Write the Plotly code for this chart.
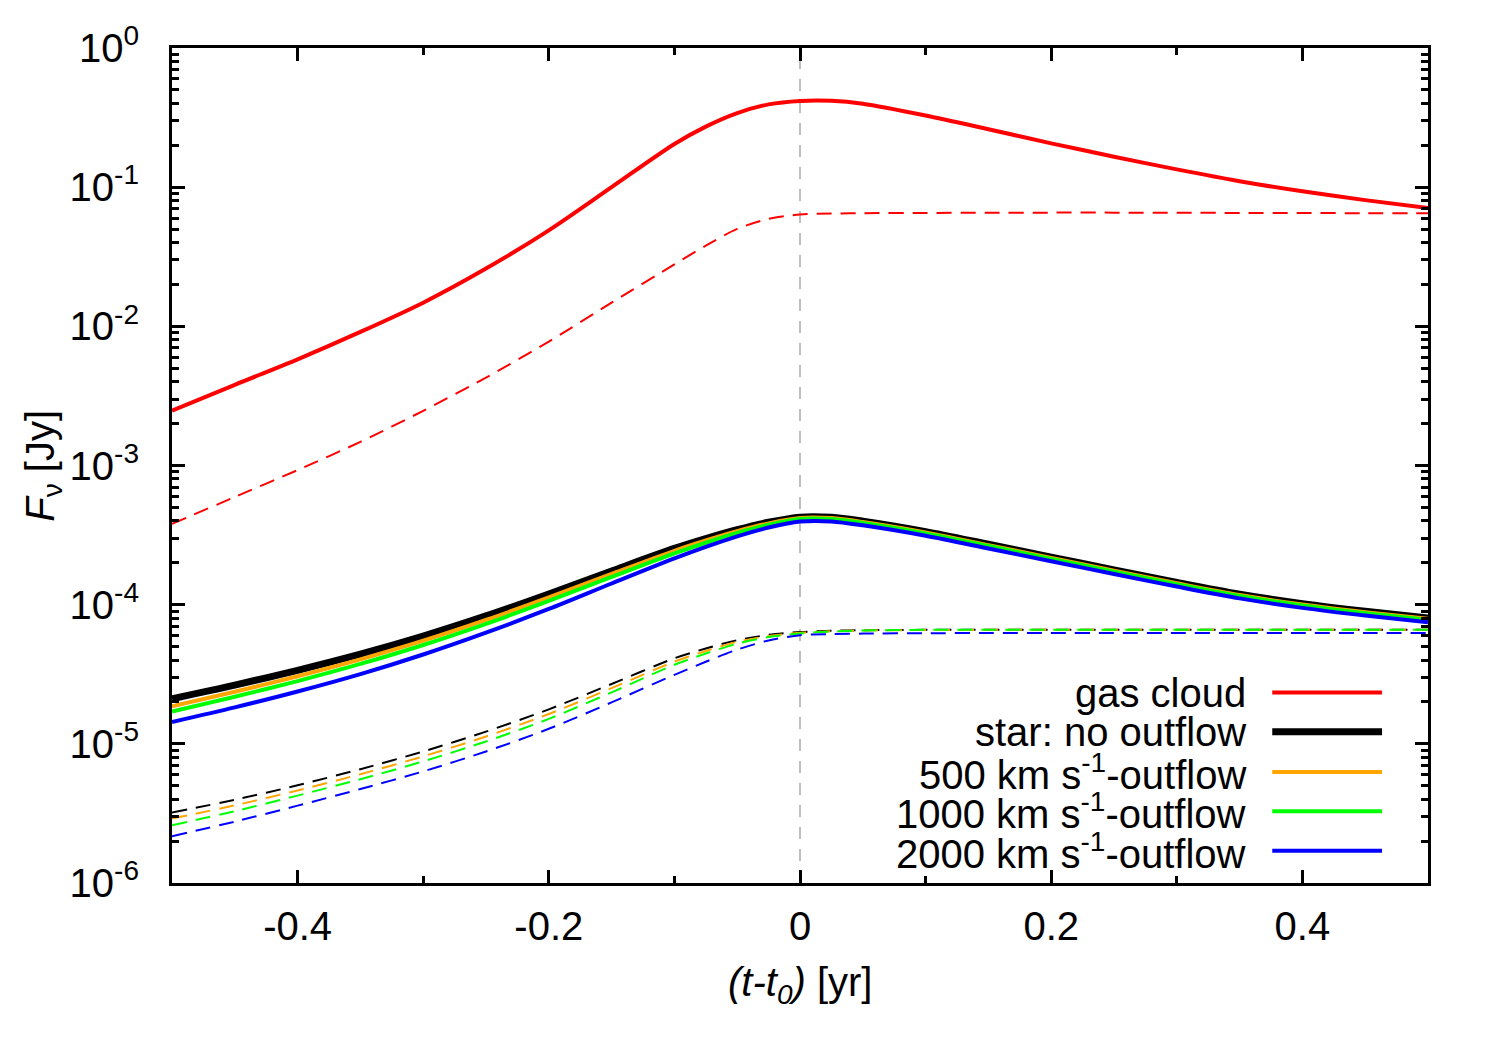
import numpy as np
import plotly.graph_objects as go

# time relative to pericentre [yr]
t_yr = [-0.5, -0.45, -0.4, -0.35, -0.3, -0.25, -0.2, -0.15, -0.1, -0.075, -0.05, -0.025,
        0.0, 0.025, 0.05, 0.1, 0.15, 0.2, 0.25, 0.3, 0.35, 0.4, 0.45, 0.5]

# log10(F_nu / Jy)
gas_solid = [-2.606, -2.42, -2.237, -2.04, -1.83, -1.585, -1.31, -1.0, -0.69, -0.565, -0.468, -0.405,
             -0.38, -0.379, -0.4, -0.485, -0.584, -0.685, -0.781, -0.872, -0.957, -1.03, -1.093, -1.15]
gas_dash = [-3.42, -3.226, -3.033, -2.83, -2.607, -2.368, -2.11, -1.83, -1.555, -1.42, -1.3, -1.228,
            -1.196, -1.19, -1.187, -1.185, -1.184, -1.183, -1.183, -1.184, -1.185, -1.186, -1.187, -1.188]

star0_solid = [-4.676, -4.578, -4.472, -4.356, -4.226, -4.081, -3.923, -3.758, -3.596, -3.525, -3.461, -3.408,
               -3.371, -3.372, -3.4, -3.475, -3.566, -3.658, -3.75, -3.84, -3.925, -3.993, -4.048, -4.096]
star500_solid = [-4.731, -4.626, -4.514, -4.393, -4.259, -4.11, -3.948, -3.779, -3.613, -3.539, -3.472, -3.416,
                 -3.377, -3.378, -3.406, -3.481, -3.572, -3.664, -3.756, -3.846, -3.931, -3.999, -4.054, -4.102]
star1000_solid = [-4.768, -4.662, -4.549, -4.426, -4.29, -4.138, -3.973, -3.801, -3.632, -3.555, -3.485, -3.426,
                  -3.384, -3.385, -3.413, -3.488, -3.579, -3.671, -3.763, -3.853, -3.938, -4.006, -4.061, -4.109]
star2000_solid = [-4.843, -4.738, -4.624, -4.499, -4.358, -4.201, -4.031, -3.848, -3.668, -3.585, -3.509, -3.446,
                  -3.403, -3.402, -3.43, -3.505, -3.596, -3.688, -3.78, -3.87, -3.955, -4.023, -4.078, -4.126]

star0_dash = [-5.494, -5.402, -5.298, -5.182, -5.055, -4.912, -4.752, -4.57, -4.385, -4.315, -4.255, -4.217,
              -4.197, -4.188, -4.184, -4.181, -4.18, -4.18, -4.18, -4.18, -4.18, -4.18, -4.18, -4.18]
star500_dash = [-5.537, -5.442, -5.335, -5.218, -5.09, -4.947, -4.786, -4.6, -4.409, -4.333, -4.267, -4.225,
                -4.202, -4.191, -4.186, -4.182, -4.181, -4.181, -4.181, -4.181, -4.181, -4.181, -4.181, -4.181]
star1000_dash = [-5.585, -5.484, -5.372, -5.254, -5.126, -4.983, -4.821, -4.63, -4.432, -4.351, -4.28, -4.233,
                 -4.207, -4.193, -4.186, -4.181, -4.18, -4.18, -4.18, -4.18, -4.18, -4.18, -4.18, -4.18]
star2000_dash = [-5.664, -5.559, -5.444, -5.325, -5.198, -5.055, -4.892, -4.702, -4.504, -4.41, -4.323, -4.257,
                 -4.219, -4.212, -4.208, -4.205, -4.204, -4.204, -4.204, -4.204, -4.204, -4.204, -4.204, -4.204]

labels = ['gas cloud', 'star: no outflow', '500 km s<sup>-1</sup>-outflow',
          '1000 km s<sup>-1</sup>-outflow', '2000 km s<sup>-1</sup>-outflow']
colors = ['#ff0000', '#000000', '#ffa500', '#00ff00', '#0000ff']
widths = [4, 7, 4, 4, 4]
solids = [gas_solid, star0_solid, star500_solid, star1000_solid, star2000_solid]
dashes = [gas_dash, star0_dash, star500_dash, star1000_dash, star2000_dash]

ytickvals = [1e-6, 1e-5, 1e-4, 1e-3, 1e-2, 1e-1, 1e0]
yticktext = ['10<sup>%d</sup>' % k for k in range(-6, 1)]
yminor = [m * 10.0 ** k for k in range(-6, 0) for m in range(2, 10)]

FONT = 'Liberation Sans, Arial, sans-serif'
FS = 40

fig = go.Figure()

# dashed curves first, then solid ones
for vals, col in zip(dashes, colors):
    fig.add_trace(go.Scatter(x=t_yr, y=10 ** np.array(vals), mode='lines',
                             line=dict(color=col, width=2, dash='15px,9px', shape='spline', smoothing=0.8),
                             showlegend=False, hoverinfo='skip'))
for vals, col, w, lab in zip(solids, colors, widths, labels):
    fig.add_trace(go.Scatter(x=t_yr, y=10 ** np.array(vals), mode='lines', name=lab,
                             line=dict(color=col, width=w, shape='spline', smoothing=0.8),
                             showlegend=False))

# t = t0 marker
fig.add_shape(type='line', x0=0, x1=0, y0=0, y1=1, xref='x', yref='paper',
              line=dict(color='#c0c0c0', width=2, dash='12px,10px'), layer='below')

# gnuplot-style key: text on the left, line sample on the right
row_y = [0.228, 0.181, 0.133, 0.086, 0.0386]
for lab, col, w, yy in zip(labels, colors, widths, row_y):
    fig.add_annotation(x=0.857, y=yy, xref='paper', yref='paper', text=lab, showarrow=False,
                       xanchor='right', yanchor='middle', font=dict(size=FS, color='black', family=FONT))
    fig.add_shape(type='line', x0=0.876, x1=0.9634, y0=yy, y1=yy, xref='paper', yref='paper',
                  line=dict(color=col, width=w))

# axis titles
fig.add_annotation(x=0.5, y=-0.122, xref='paper', yref='paper', showarrow=False,
                   text='<i>(t-t</i><sub><i>0</i></sub><i>)</i> [yr]', xanchor='center', yanchor='middle',
                   font=dict(size=FS, color='black', family=FONT))
fig.add_annotation(x=-0.1033, y=0.5, xref='paper', yref='paper', showarrow=False, textangle=-90,
                   text='<i>F</i><sub>ν</sub> [Jy]', xanchor='center', yanchor='middle',
                   font=dict(size=FS, color='black', family=FONT))

axis_common = dict(showline=True, linecolor='black', linewidth=3, mirror='ticks',
                   ticks='inside', tickcolor='black', tickwidth=2.5, ticklen=13,
                   showgrid=False, zeroline=False,
                   tickfont=dict(size=FS, color='black', family=FONT))

fig.update_xaxes(range=[-0.5, 0.5], tickmode='array', tickvals=[-0.4, -0.2, 0, 0.2, 0.4],
                 ticktext=['-0.4', '-0.2', '0', '0.2', '0.4'],
                 minor=dict(tickmode='array', tickvals=[-0.3, -0.1, 0.1, 0.3], ticks='inside',
                            ticklen=7, tickwidth=2.5, tickcolor='black'),
                 ticklabelstandoff=6, **axis_common)
fig.update_yaxes(type='log', range=[-6, 0], tickmode='array', tickvals=ytickvals, ticktext=yticktext,
                 minor=dict(tickmode='array', tickvals=yminor, ticks='inside',
                            ticklen=7, tickwidth=2.5, tickcolor='black'),
                 ticklabelstandoff=22, **axis_common)

fig.update_layout(width=1484, height=1034, plot_bgcolor='white', paper_bgcolor='white',
                  margin=dict(l=164, r=64, t=40, b=159, autoexpand=False),
                  font=dict(family=FONT, color='black'))

fig.write_html("out.html")
